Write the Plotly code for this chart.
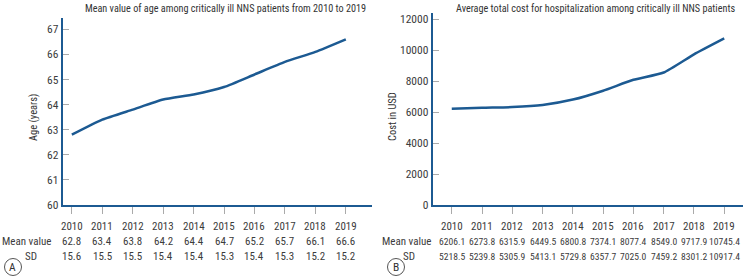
import plotly.graph_objects as go

years = [2010, 2011, 2012, 2013, 2014, 2015, 2016, 2017, 2018, 2019]
age_mean = [62.8, 63.4, 63.8, 64.2, 64.4, 64.7, 65.2, 65.7, 66.1, 66.6]
age_sd = [15.6, 15.5, 15.5, 15.4, 15.4, 15.3, 15.4, 15.3, 15.2, 15.2]
cost_mean = [6206.1, 6273.8, 6315.9, 6449.5, 6800.8, 7374.1, 8077.4, 8549.0, 9717.9, 10745.4]
cost_sd = [5218.5, 5239.8, 5305.9, 5413.1, 5729.8, 6357.7, 7025.0, 7459.2, 8301.2, 10917.4]
age_ticks = [60, 61, 62, 63, 64, 65, 66, 67]
cost_ticks = [0, 2000, 4000, 6000, 8000, 10000, 12000]

W, H = 745, 278
FONT = "Liberation Sans Narrow, Arial Narrow, Roboto Condensed, sans-serif"
BLUE = "#1c5a92"
TXT = "#3c3c3c"


def px(x):
    return x / W


def py(y):
    return 1 - y / H


fig = go.Figure()
fig.add_trace(go.Scatter(x=years, y=age_mean, mode="lines", xaxis="x", yaxis="y",
                         line=dict(color=BLUE, width=2.5, shape="spline", smoothing=0.5),
                         hoverinfo="x+y", showlegend=False))
fig.add_trace(go.Scatter(x=years, y=cost_mean, mode="lines", xaxis="x2", yaxis="y2",
                         line=dict(color=BLUE, width=2.5, shape="spline", smoothing=0.5),
                         hoverinfo="x+y", showlegend=False))

common_x = dict(showline=True, linecolor=BLUE, linewidth=2, showgrid=False, zeroline=False,
                ticks="outside", ticklen=7, tickcolor="#aaaaaa", tickwidth=1,
                tickvals=years, showticklabels=False, fixedrange=True)
common_y = dict(showline=True, linecolor=BLUE, linewidth=2, showgrid=False, zeroline=False,
                ticks="inside", ticklen=6, tickcolor="#aaaaaa", tickwidth=1, tickformat="d",
                tickfont=dict(family=FONT, size=11.5, color=TXT), automargin=False, fixedrange=True)

fig.update_layout(
    width=W, height=H, autosize=False,
    margin=dict(l=0, r=0, t=0, b=0),
    paper_bgcolor="white", plot_bgcolor="white",
    font=dict(family=FONT, size=11, color=TXT),
    xaxis=dict(common_x, domain=[px(62.7), px(371.7)], range=[2009.70, 2019.85], anchor="y"),
    yaxis=dict(common_y, domain=[py(205), py(18)], range=[60, 67.45], tickvals=age_ticks, anchor="x"),
    xaxis2=dict(common_x, domain=[px(432.7), px(742.7)], range=[2009.37, 2019.61], anchor="y2"),
    yaxis2=dict(common_y, domain=[py(205), py(13)], range=[0, 12387], tickvals=cost_ticks, anchor="x2"),
)

ann = []


def add(text, x, y, xref="paper", size=11, color=TXT, xanchor="center", angle=0):
    ann.append(dict(text=text, x=x, y=y, xref=xref, yref="paper", showarrow=False,
                    xanchor=xanchor, yanchor="middle", textangle=angle,
                    font=dict(family=FONT, size=size, color=color)))


# titles
add("Mean value of age among critically ill NNS patients from 2010 to 2019", px(225), py(8),
    size=10.2, color="#333333")
add("Average total cost for hospitalization among critically ill NNS patients", px(595), py(8),
    size=10.2, color="#333333")
# y-axis titles
add("Age (years)", px(33), py(118), size=10.5, color="#333333", angle=-90)
add("Cost in USD", px(392), py(117), size=10.5, color="#333333", angle=-90)

row_y = {"year": py(226), "mean": py(241.5), "sd": py(256.5)}
for xr, means, sds, vsize, lab_mean_x, lab_sd_x in [
    ("x", age_mean, age_sd, 11, 53, 31),
    ("x2", cost_mean, cost_sd, 9.6, 433, 409),
]:
    for yr, m, s in zip(years, means, sds):
        add(str(yr), yr, row_y["year"], xref=xr, size=11)
        add("{:.1f}".format(m), yr, row_y["mean"], xref=xr, size=vsize)
        add("{:.1f}".format(s), yr, row_y["sd"], xref=xr, size=vsize)
    add("Mean value", px(lab_mean_x), row_y["mean"], size=11, xanchor="right")
    add("SD", px(lab_sd_x), row_y["sd"], size=11)

# panel letters
shapes = []
for letter, cx in [("A", 13), ("B", 396)]:
    cy = 267
    r = 8.5
    shapes.append(dict(type="circle", xref="paper", yref="paper",
                       x0=px(cx - r), x1=px(cx + r), y0=py(cy + r), y1=py(cy - r),
                       line=dict(color="#555555", width=1)))
    add(letter, px(cx), py(cy), size=11.5, color="#333333")

fig.update_layout(annotations=ann, shapes=shapes)
fig.write_html("out.html", config={"displayModeBar": False},
               post_script="document.body.style.margin='0px';")
